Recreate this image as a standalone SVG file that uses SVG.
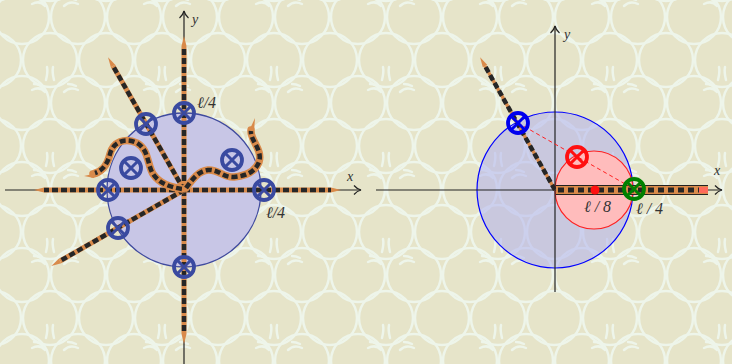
<svg xmlns="http://www.w3.org/2000/svg" width="732" height="364" viewBox="0 0 732 364">
<defs>
<pattern id="bg" x="-6" y="-4" width="112" height="86" patternUnits="userSpaceOnUse">
<rect width="112" height="86" fill="#e6e4c9"/>
<g fill="none" stroke="#eef5ea" stroke-width="2.5" stroke-linecap="round">
<circle cx="28" cy="21" r="27"/><circle cx="84" cy="21" r="27"/>
<circle cx="0" cy="64" r="27"/><circle cx="56" cy="64" r="27"/><circle cx="112" cy="64" r="27"/>
<circle cx="28" cy="107" r="27"/><circle cx="84" cy="107" r="27"/>
<circle cx="0" cy="-22" r="27"/><circle cx="56" cy="-22" r="27"/><circle cx="112" cy="-22" r="27"/>
<path d="M52 84 Q54 76 53 71 M60 84 Q58 76 59 71"/>
<path d="M38 8 Q46 4 51 10 M40 2 Q46 2 49 6"/>
<path d="M70 10 Q76 4 84 8 M74 2 Q78 2 82 4"/>
</g>
</pattern>
<marker id="tip" markerWidth="12" markerHeight="8" refX="0" refY="3" orient="auto" markerUnits="userSpaceOnUse" viewBox="0 -1 12 8">
<path d="M0 0.5 L10 3 L0 5.5 z" fill="#d98a4a"/>
</marker>
<marker id="arr" markerWidth="12" markerHeight="12" refX="9" refY="6" orient="auto" markerUnits="userSpaceOnUse">
<path d="M2 1.5 Q5 5 9 6 Q5 7 2 10.5" fill="none" stroke="#222" stroke-width="1.2"/>
</marker>
<style>
.ax{stroke:#222;stroke-width:1.2;fill:none;marker-end:url(#arr)}
.co{stroke:#d98a4a;stroke-width:5;fill:none;marker-end:url(#tip)}
.cb{stroke:#262626;stroke-width:4.5;fill:none;stroke-dasharray:6 3}
.wo{stroke:#d98a4a;stroke-width:7.5;fill:none;stroke-linecap:round}
.wb{stroke:#262626;stroke-width:4.5;fill:none;stroke-dasharray:6 3}
.mk{fill:none;stroke-width:3.8}
.mx{stroke-width:3}
.lb{font-family:"Liberation Serif","DejaVu Serif",serif;font-style:italic;font-size:16px;fill:#333}
.al{font-family:"Liberation Serif","DejaVu Serif",serif;font-style:italic;font-size:14px;fill:#333}
</style>
</defs>
<rect width="732" height="364" fill="url(#bg)"/>

<!-- LEFT PANEL -->
<g id="left-disk"><circle cx="184" cy="190" r="77" fill="#c8c6e6" stroke="#3f4a9e" stroke-width="1.3"/></g>
<g id="left-axes">
<line class="ax" x1="5" y1="190" x2="361" y2="190"/>
<line class="ax" x1="184" y1="364" x2="184" y2="11"/>
<text class="al" x="347" y="181">x</text>
<text class="al" x="192" y="24">y</text>
</g>
<g id="left-cuts">
<line class="co" x1="184" y1="190" x2="184" y2="46"/>
<line class="cb" x1="184" y1="190" x2="184" y2="46"/>
<line class="co" x1="184" y1="190" x2="184" y2="334"/>
<line class="cb" x1="184" y1="190" x2="184" y2="334"/>
<line class="co" x1="184" y1="190" x2="44" y2="190"/>
<line class="cb" x1="184" y1="190" x2="44" y2="190"/>
<line class="co" x1="184" y1="190" x2="331" y2="190"/>
<line class="cb" x1="184" y1="190" x2="331" y2="190"/>
<line class="co" x1="184" y1="190" x2="113" y2="66"/>
<line class="cb" x1="184" y1="190" x2="113" y2="66"/>
<line class="co" x1="184" y1="190" x2="60" y2="261"/>
<line class="cb" x1="184" y1="190" x2="60" y2="261"/>
<path class="wo" d="M182 189 C170 187 160 184 153 174 C147 164 149 150 137 143 C125 137 113 142 110 154 C107 166 102 172 93 174"/>
<path d="M95 173.5 L84 176 L94 178 z" fill="#d98a4a"/>
<path class="wb" d="M182 189 C170 187 160 184 153 174 C147 164 149 150 137 143 C125 137 113 142 110 154 C107 166 101 171 95 173"/>
<path class="wo" d="M186 188 C192 180 198 171 208 170 C218 169 224 178 234 177 C246 176 255 172 259 162 C263 150 250 140 251 130"/>
<path d="M249 131 L255 118 L254 132 z" fill="#d98a4a"/>
<path class="wb" d="M186 188 C192 180 198 171 208 170 C218 169 224 178 234 177 C246 176 255 172 259 162 C263 150 250 140 251 131"/>
</g>
<g id="left-markers" stroke="#3a4aa0">
<g id="m1"><circle class="mk" cx="184" cy="113" r="10"/><path class="mx" d="M177 106 L191 120 M191 106 L177 120"/></g>
<g id="m2"><circle class="mk" cx="146" cy="124" r="10"/><path class="mx" d="M139 117 L153 131 M153 117 L139 131"/></g>
<g id="m3"><circle class="mk" cx="131" cy="168" r="10"/><path class="mx" d="M124 161 L138 175 M138 161 L124 175"/></g>
<g id="m4"><circle class="mk" cx="232" cy="160" r="10"/><path class="mx" d="M225 153 L239 167 M239 153 L225 167"/></g>
<g id="m5"><circle class="mk" cx="108" cy="190" r="10"/><path class="mx" d="M101 183 L115 197 M115 183 L101 197"/></g>
<g id="m6"><circle class="mk" cx="264" cy="190" r="10"/><path class="mx" d="M257 183 L271 197 M271 183 L257 197"/></g>
<g id="m7"><circle class="mk" cx="118" cy="228" r="10"/><path class="mx" d="M111 221 L125 235 M125 221 L111 235"/></g>
<g id="m8"><circle class="mk" cx="184" cy="267" r="10"/><path class="mx" d="M177 260 L191 274 M191 260 L177 274"/></g>
</g>
<g id="left-labels">
<text class="lb" x="197" y="108">ℓ/4</text>
<text class="lb" x="266" y="218">ℓ/4</text>
</g>

<!-- RIGHT PANEL -->
<g id="right-disks">
<circle cx="555" cy="190" r="78" fill="#b0b0ef" fill-opacity="0.55" stroke="#0000ff" stroke-width="1.2"/>
<circle cx="594" cy="190" r="39" fill="#ffbcbc" stroke="#ff2020" stroke-width="1.2"/>
</g>
<g id="right-axes">
<line class="ax" x1="376" y1="190" x2="722" y2="190"/>
<line class="ax" x1="555" y1="292" x2="555" y2="26"/>
<text class="al" x="714" y="175">x</text>
<text class="al" x="564" y="39">y</text>
</g>
<g id="right-cuts">
<line x1="555" y1="190" x2="485" y2="66" stroke="#d98a4a" stroke-width="3.5" marker-end="url(#tip)"/>
<line class="cb" x1="555" y1="190" x2="485" y2="66" stroke-width="4" stroke-dasharray="5 2.5"/>
<rect x="556" y="186" width="152" height="8" fill="#d98a4a"/>
<line x1="556" y1="185.5" x2="708" y2="185.5" stroke="#222" stroke-width="1.2"/>
<line x1="556" y1="194.5" x2="708" y2="194.5" stroke="#222" stroke-width="1.2"/>
<line x1="558" y1="190" x2="700" y2="190" stroke="#262626" stroke-width="5" stroke-dasharray="6 4"/>
<rect x="699" y="187" width="9" height="6" fill="#ff6a5a"/>
<line x1="518" y1="123" x2="634" y2="189" stroke="#ff2020" stroke-width="1" stroke-dasharray="4 3"/>
<circle cx="595" cy="190" r="4.5" fill="#ff1010"/>
</g>
<g id="right-markers">
<g id="rb" stroke="#0000ee"><circle class="mk" cx="518" cy="123" r="10"/><path class="mx" d="M511 116 L525 130 M525 116 L511 130"/></g>
<g id="rr" stroke="#ff1010"><circle class="mk" cx="577" cy="157" r="10"/><path class="mx" d="M570 150 L584 164 M584 150 L570 164"/></g>
<g id="rg" stroke="#008000"><circle class="mk" cx="634" cy="189" r="10"/><path class="mx" d="M627 182 L641 196 M641 182 L627 196"/></g>
</g>
<g id="right-labels">
<text class="lb" x="584" y="212">ℓ / 8</text>
<text class="lb" x="636" y="214">ℓ / 4</text>
</g>
</svg>
